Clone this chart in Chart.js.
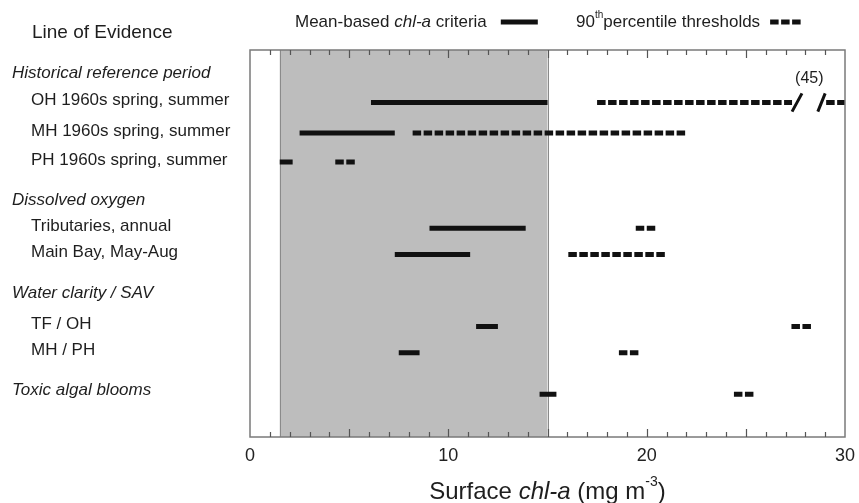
<!DOCTYPE html>
<html>
<head>
<meta charset="utf-8">
<script src="https://cdn.jsdelivr.net/npm/chart.js@4.4.1/dist/chart.umd.min.js"></script>
<style>
  html, body { margin: 0; padding: 0; background: #fff; overflow: hidden; }
  canvas { display: block; }
</style>
</head>
<body>
<canvas id="evidenceChart" width="859" height="503"></canvas>
<script>
// rows, top to bottom (y is in "line slots", 0 = top of plot)
const rowLabels = ['OH 1960s spring, summer', 'MH 1960s spring, summer', 'PH 1960s spring, summer',
                   'Tributaries, annual', 'Main Bay, May-Aug', 'TF / OH', 'MH / PH', ''];
const rowPos   = [1.9, 3.0, 4.05, 6.45, 7.4, 10.0, 10.95, 12.45];
const meanLow  = [6.1, 2.5, 1.5, 9.05, 7.3, 11.4, 7.5, 14.6];
const meanHigh = [15.0, 7.3, 2.15, 13.9, 11.1, 12.5, 8.55, 15.45];
const pctLow   = [17.5, 8.2, 4.3, 19.45, 16.05, 27.3, 18.6, 24.4];
const pctHigh  = [45, 21.95, 5.3, 20.45, 20.95, 28.3, 19.6, 25.4];

// OH 90th percentile runs off scale (to 45): axis break
const breakRow = 0;
const breakGap = [27.33, 29.05];

const groupLabels = ['Historical reference period', 'Dissolved oxygen', 'Water clarity / SAV', 'Toxic algal blooms'];
const groupPos = [0.83, 5.43, 8.79, 12.3];

const xTicks = [0, 10, 20, 30];
const shadeLow = 1.5, shadeHigh = 15;

const FONT = 'Liberation Sans, Arial, Helvetica, sans-serif';

function buildSegments(lo, hi, withBreak) {
  const pts = [];
  rowPos.forEach((y, i) => {
    if (withBreak && i === breakRow) {
      pts.push({x: lo[i], y}, {x: breakGap[0], y}, {x: breakGap[0], y: null});
      pts.push({x: breakGap[1], y}, {x: hi[i], y}, {x: hi[i], y: null});
      return;
    }
    pts.push({x: lo[i], y}, {x: hi[i], y}, {x: hi[i], y: null});
  });
  return pts;
}

function buildSlashes() {
  const y = rowPos[breakRow];
  return [
    {x: breakGap[0], y: y + 0.33}, {x: breakGap[0] + 0.5, y: y - 0.33}, {x: breakGap[0] + 0.5, y: null},
    {x: breakGap[1] - 0.42, y: y + 0.33}, {x: breakGap[1] - 0.05, y: y - 0.33}
  ];
}

// draw a run of text pieces (normal / italic / superscript)
function drawRuns(ctx, runs, x, y, size, align) {
  const pieces = runs.map(r => {
    const s = r.sup ? Math.round(size * 0.6) : size;
    const f = (r.italic ? 'italic ' : '') + s + 'px ' + FONT;
    ctx.font = f;
    return {t: r.t, f, w: ctx.measureText(r.t).width, sup: r.sup, s};
  });
  const total = pieces.reduce((a, p) => a + p.w, 0);
  let cx = align === 'center' ? x - total / 2 : x;
  ctx.textAlign = 'left';
  ctx.textBaseline = 'middle';
  pieces.forEach(p => {
    ctx.font = p.f;
    ctx.fillText(p.t, cx, p.sup ? y - size * 0.42 : y);
    cx += p.w;
  });
  return cx;
}

const decor = {
  id: 'decor',
  beforeDatasetsDraw(chart) {
    const {ctx, chartArea: a, scales: {x}} = chart;
    const x0 = x.getPixelForValue(shadeLow), x1 = x.getPixelForValue(shadeHigh);
    ctx.save();
    ctx.fillStyle = '#bdbdbd';
    ctx.fillRect(x0, a.top, x1 - x0, a.bottom - a.top);
    ctx.strokeStyle = '#8a8a8a';
    ctx.lineWidth = 1;
    ctx.beginPath();
    ctx.moveTo(Math.round(x0) + 0.5, a.top); ctx.lineTo(Math.round(x0) + 0.5, a.bottom);
    ctx.moveTo(Math.round(x1) + 0.5, a.top); ctx.lineTo(Math.round(x1) + 0.5, a.bottom);
    ctx.stroke();
    ctx.restore();
  },
  afterDatasetsDraw(chart) {
    const {ctx, chartArea: a, scales: {x, y}} = chart;
    ctx.save();
    // frame
    ctx.strokeStyle = '#7a7a7a';
    ctx.lineWidth = 1.5;
    ctx.strokeRect(a.left, a.top, a.right - a.left, a.bottom - a.top);
    // inward ticks, top and bottom
    ctx.strokeStyle = '#555';
    ctx.lineWidth = 1.2;
    ctx.beginPath();
    for (let v = 1; v < 30; v++) {
      const px = Math.round(x.getPixelForValue(v)) + 0.5;
      const len = v % 5 === 0 ? 8 : 5;
      ctx.moveTo(px, a.bottom); ctx.lineTo(px, a.bottom - len);
      ctx.moveTo(px, a.top); ctx.lineTo(px, a.top + len);
    }
    ctx.stroke();

    ctx.fillStyle = '#1e1e1e';
    // left-hand labels
    drawRuns(ctx, [{t: 'Line of Evidence'}], 32, y.getPixelForValue(-0.62), 19, 'left');
    groupLabels.forEach((g, i) => {
      drawRuns(ctx, [{t: g, italic: true}], 12, y.getPixelForValue(groupPos[i]), 17, 'left');
    });
    rowLabels.forEach((r, i) => {
      if (r) drawRuns(ctx, [{t: r}], 31, y.getPixelForValue(rowPos[i]) - 2, 17, 'left');
    });

    // off-scale value note
    drawRuns(ctx, [{t: '(45)'}], x.getPixelForValue(28.2), y.getPixelForValue(rowPos[breakRow] - 0.85), 16, 'center');

    // legend
    const ly = 22;
    let ex = drawRuns(ctx, [{t: 'Mean-based '}, {t: 'chl-a', italic: true}, {t: ' criteria'}], 295, ly, 17, 'left');
    ctx.strokeStyle = '#111';
    ctx.lineWidth = 5;
    ctx.beginPath(); ctx.moveTo(ex + 14, ly); ctx.lineTo(ex + 51, ly); ctx.stroke();
    ex = drawRuns(ctx, [{t: '90'}, {t: 'th', sup: true}, {t: 'percentile thresholds'}], 576, ly, 17, 'left');
    ctx.setLineDash([8.5, 2.5]);
    ctx.beginPath(); ctx.moveTo(ex + 10, ly); ctx.lineTo(ex + 41, ly); ctx.stroke();
    ctx.setLineDash([]);

    // axis title
    drawRuns(ctx, [{t: 'Surface '}, {t: 'chl-a', italic: true}, {t: ' (mg m'}, {t: '-3', sup: true}, {t: ')'}],
      (a.left + a.right) / 2, 492, 24, 'center');
    ctx.restore();
  }
};

const ctx = document.getElementById('evidenceChart').getContext('2d');

new Chart(ctx, {
  type: 'scatter',
  data: {
    datasets: [
      {
        label: 'Mean-based chl-a criteria',
        data: buildSegments(meanLow, meanHigh, false),
        showLine: true, spanGaps: false,
        borderColor: '#111', borderWidth: 5, borderCapStyle: 'butt',
        pointRadius: 0, clip: {left: 5, top: 5, right: 0, bottom: 5}
      },
      {
        label: '90th percentile thresholds',
        data: buildSegments(pctLow, pctHigh, true),
        showLine: true, spanGaps: false,
        borderColor: '#111', borderWidth: 5, borderCapStyle: 'butt', borderDash: [8.5, 2.5],
        pointRadius: 0, clip: {left: 5, top: 5, right: 0, bottom: 5}
      },
      {
        label: 'break',
        data: buildSlashes(),
        showLine: true, spanGaps: false,
        borderColor: '#111', borderWidth: 3, borderCapStyle: 'butt',
        pointRadius: 0
      }
    ]
  },
  options: {
    responsive: false,
    animation: false,
    events: [],
    layout: { padding: { left: 250, right: 14, top: 50, bottom: 0 } },
    plugins: {
      legend: { display: false },
      tooltip: { enabled: false }
    },
    scales: {
      x: {
        type: 'linear', min: 0, max: 30,
        afterBuildTicks: s => { s.ticks = xTicks.map(v => ({ value: v })); },
        ticks: { font: { size: 18, family: FONT }, color: '#222', padding: 8, maxRotation: 0 },
        grid: { display: false, drawTicks: false },
        border: { display: false },
        afterFit: s => { s.height = 66; s.paddingLeft = 0; s.paddingRight = 0; }
      },
      y: {
        type: 'linear', min: 0, max: 14, reverse: true,
        display: false
      }
    }
  },
  plugins: [decor]
});
</script>
</body>
</html>
